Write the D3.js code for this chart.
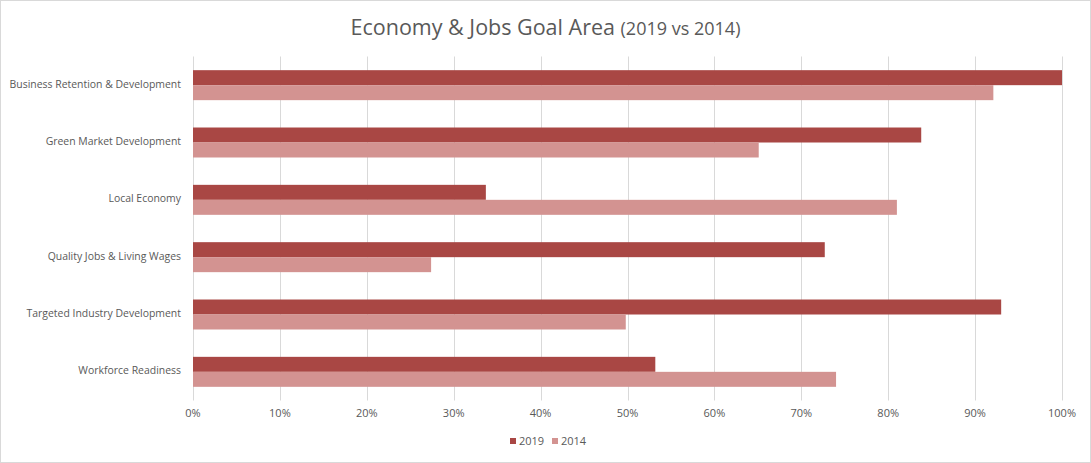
<!DOCTYPE html>
<html>
  <head>
    <meta charset="utf-8">
    <style type="text/css">
      body { margin: 0; background: #fff; }
      svg { display: block; font-family: "Open Sans", "Noto Sans", sans-serif; }
      .grid line { stroke: #d9d9d9; stroke-width: 1; }
      .lbl { fill: #595959; font-size: 11px; }
      .cat { fill: #595959; font-size: 10.45px; }
    </style>
  </head>
  <body>
    <script src="https://d3js.org/d3.v7.min.js"></script>
    <script>
      // chart values
      var categories = ["Business Retention & Development", "Green Market Development", "Local Economy",
                        "Quality Jobs & Living Wages", "Targeted Industry Development", "Workforce Readiness"];
      var seriesNames = ["2019", "2014"];
      var values2019 = [1.00, 0.838, 0.337, 0.727, 0.930, 0.532];
      var values2014 = [0.921, 0.651, 0.810, 0.274, 0.498, 0.740];
      var tickValues = [0, 0.1, 0.2, 0.3, 0.4, 0.5, 0.6, 0.7, 0.8, 0.9, 1.0];
      var colors = ["#a94744", "#d39391"];

      var width = 1091, height = 463;
      var plotLeft = 193, plotRight = 1062, plotTop = 56.5, plotBottom = 400.5;

      var svg = d3.select("body").append("svg")
          .attr("width", width)
          .attr("height", height);

      svg.append("rect")
          .attr("x", 0.5).attr("y", 0.5)
          .attr("width", width - 1).attr("height", height - 1)
          .attr("fill", "#fff").attr("stroke", "#d9d9d9");

      var x = d3.scaleLinear().domain([0, 1]).range([plotLeft, plotRight]);
      var y = d3.scaleBand().domain(categories).range([plotTop, plotBottom]).paddingInner(0.477).paddingOuter(0.2385);
      var y1 = d3.scaleBand().domain(seriesNames).range([0, y.bandwidth()]);

      // gridlines
      svg.append("g").attr("class", "grid")
        .selectAll("line")
        .data(tickValues)
        .enter().append("line")
          .attr("x1", function(d) { return Math.round(x(d)) + 0.5; })
          .attr("x2", function(d) { return Math.round(x(d)) + 0.5; })
          .attr("y1", plotTop)
          .attr("y2", plotBottom);

      // bars
      var rows = categories.map(function(c, i) {
        return { cat: c, vals: [values2019[i], values2014[i]] };
      });
      var groups = svg.append("g").selectAll("g")
          .data(rows)
          .enter().append("g")
          .attr("transform", function(d) { return "translate(0," + y(d.cat) + ")"; });
      groups.selectAll("rect")
          .data(function(d) { return d.vals.map(function(v, j) { return { name: seriesNames[j], v: v, j: j }; }); })
          .enter().append("rect")
          .attr("x", x(0))
          .attr("y", function(d) { return y1(d.name); })
          .attr("width", function(d) { return x(d.v) - x(0); })
          .attr("height", y1.bandwidth())
          .attr("fill", function(d) { return colors[d.j]; });

      // category labels
      svg.append("g").selectAll("text")
          .data(categories)
          .enter().append("text")
          .attr("class", "cat")
          .attr("x", 181)
          .attr("y", function(d) { return y(d) + y.bandwidth() / 2 - 1; })
          .attr("dy", "0.35em")
          .attr("text-anchor", "end")
          .text(function(d) { return d; });

      // x axis labels
      svg.append("g").selectAll("text")
          .data(tickValues)
          .enter().append("text")
          .attr("class", "lbl")
          .attr("x", function(d) { return x(d); })
          .attr("y", 417)
          .attr("text-anchor", "middle")
          .text(d3.format(".0%"));

      // title
      var title = svg.append("text")
          .attr("x", width / 2)
          .attr("y", 35)
          .attr("text-anchor", "middle")
          .attr("fill", "#595959")
          .style("font-size", "21.5px");
      title.append("tspan").text("Economy & Jobs Goal Area ");
      title.append("tspan").style("font-size", "18px").text("(2019 vs 2014)");

      // legend
      var legend = svg.append("g").attr("transform", "translate(510,441)");
      var items = legend.selectAll("g")
          .data(seriesNames)
          .enter().append("g")
          .attr("transform", function(d, i) { return "translate(" + (i * 42) + ",0)"; });
      items.append("rect")
          .attr("x", 0).attr("y", -3)
          .attr("width", 6).attr("height", 6)
          .attr("fill", function(d, i) { return colors[i]; });
      items.append("text")
          .attr("class", "lbl")
          .attr("x", 9)
          .attr("y", 0)
          .attr("dy", "0.35em")
          .text(function(d) { return d; });
    </script>
  </body>
</html>
